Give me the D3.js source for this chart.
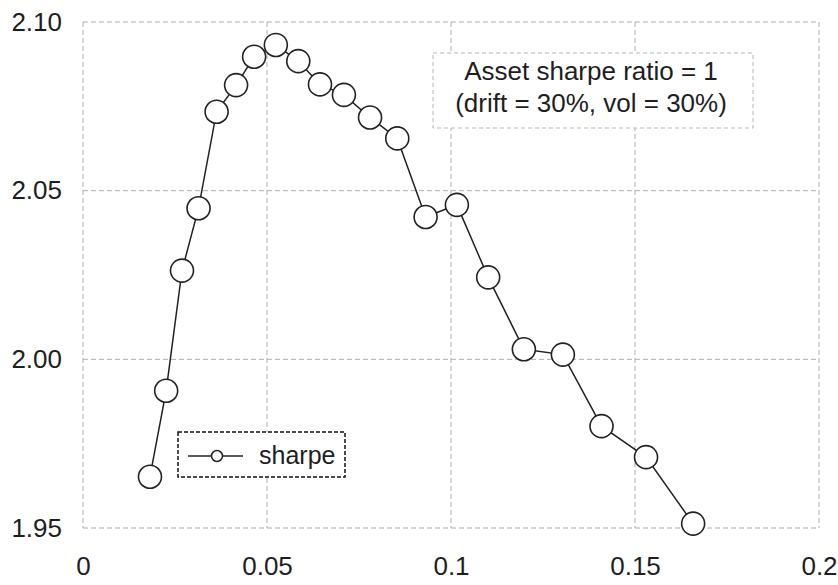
<!DOCTYPE html>
<html>
<head>
<meta charset="utf-8">
<script src="https://cdn.jsdelivr.net/npm/d3@7"></script>
<style>
    body { margin: 0; background: #fff; }
    svg { display: block; font-family: "Liberation Sans", Arial, sans-serif; }
</style>
</head>
<body>
<svg id="chart" width="838" height="585"></svg>
<script>
// data
let xValues = [0.0182, 0.0226, 0.0269, 0.0314, 0.0363, 0.0416, 0.0465, 0.0524, 0.0585, 0.0644, 0.0709,
               0.0780, 0.0854, 0.0931, 0.1016, 0.1101, 0.1198, 0.1304, 0.1409, 0.1530, 0.1658];
let sharpeValues = [1.9652, 1.9907, 2.0263, 2.0448, 2.0734, 2.0813, 2.0897, 2.0932, 2.0884, 2.0815, 2.0784,
                    2.0717, 2.0655, 2.0422, 2.0458, 2.0243, 2.0030, 2.0014, 1.9802, 1.9710, 1.9513];
let xTicks = [0, 0.05, 0.1, 0.15, 0.2];
let xTickLabels = ['0', '0.05', '0.1', '0.15', '0.2'];
let yTicks = [1.95, 2.00, 2.05, 2.10];
let yTickLabels = ['1.95', '2.00', '2.05', '2.10'];
let seriesName = 'sharpe';
let noteLines = ['Asset sharpe ratio = 1', '(drift = 30%, vol = 30%)'];

function chart(element) {
    let margin = { top: 22, right: 19, bottom: 57, left: 83 };
    let width = 838, height = 585;

    let x = d3.scaleLinear().domain([0, 0.2]).range([margin.left, width - margin.right]);
    let y = d3.scaleLinear().domain([1.95, 2.10]).range([height - margin.bottom, margin.top]);

    let svg = d3.select(element);
    let data = xValues.map((v, i) => ({ x: v, y: sharpeValues[i] }));

    //grid lines (inner ones) + dashed plot frame
    let grid = svg.append('g')
        .attr('stroke', '#adadad')
        .attr('stroke-width', 1)
        .attr('stroke-dasharray', '5,3');

    grid.selectAll('line.vx')
        .data(xTicks)
        .join('line')
        .attr('class', 'vx')
        .attr('x1', d => x(d)).attr('x2', d => x(d))
        .attr('y1', y(2.10)).attr('y2', y(1.95));

    grid.selectAll('line.hy')
        .data(yTicks)
        .join('line')
        .attr('class', 'hy')
        .attr('x1', x(0)).attr('x2', x(0.2))
        .attr('y1', d => y(d)).attr('y2', d => y(d));

    //axes, text only
    let xAxis = d3.axisBottom(x)
        .tickValues(xTicks)
        .tickFormat((d, i) => xTickLabels[i])
        .tickSize(0)
        .tickPadding(29);

    let yAxis = d3.axisLeft(y)
        .tickValues(yTicks)
        .tickFormat((d, i) => yTickLabels[i])
        .tickSize(0)
        .tickPadding(21);

    svg.append('g')
        .attr('transform', `translate(0,${y(1.95)})`)
        .call(xAxis)
        .call(g => g.select('.domain').remove());

    svg.append('g')
        .attr('transform', `translate(${x(0)},0)`)
        .call(yAxis)
        .call(g => g.select('.domain').remove());

    svg.selectAll('.tick text')
        .attr('font-size', 26)
        .attr('font-family', '"Liberation Sans", Arial, sans-serif')
        .attr('fill', '#1e1e1e');

    //annotation box
    let note = svg.append('g');
    note.append('rect')
        .attr('x', 433).attr('y', 53)
        .attr('width', 320).attr('height', 75)
        .attr('fill', '#fff')
        .attr('stroke', '#b5b5b5')
        .attr('stroke-dasharray', '4,3');
    note.selectAll('text')
        .data(noteLines)
        .join('text')
        .attr('x', 591)
        .attr('y', (d, i) => 80 + i * 32)
        .attr('text-anchor', 'middle')
        .attr('font-size', 26)
        .attr('fill', '#1e1e1e')
        .text(d => d);

    //series line
    let line = d3.line().x(d => x(d.x)).y(d => y(d.y));
    svg.append('path')
        .datum(data)
        .attr('fill', 'none')
        .attr('stroke', '#222')
        .attr('stroke-width', 1.5)
        .attr('d', line);

    svg.selectAll('circle.pt')
        .data(data)
        .join('circle')
        .attr('class', 'pt')
        .attr('cx', d => x(d.x))
        .attr('cy', d => y(d.y))
        .attr('r', 11.5)
        .attr('fill', '#fff')
        .attr('stroke', '#222')
        .attr('stroke-width', 1.6);

    //legend
    let legend = svg.append('g');
    legend.append('rect')
        .attr('x', 178).attr('y', 432)
        .attr('width', 167).attr('height', 45)
        .attr('fill', '#fff')
        .attr('stroke', '#111')
        .attr('stroke-width', 1.5)
        .attr('stroke-dasharray', '4,2');
    legend.append('line')
        .attr('x1', 188).attr('x2', 243)
        .attr('y1', 456).attr('y2', 456)
        .attr('stroke', '#222')
        .attr('stroke-width', 1.5);
    legend.append('circle')
        .attr('cx', 217).attr('cy', 456).attr('r', 5.5)
        .attr('fill', '#fff')
        .attr('stroke', '#222')
        .attr('stroke-width', 1.5);
    legend.append('text')
        .attr('x', 259).attr('y', 464)
        .attr('font-size', 25)
        .attr('fill', '#1e1e1e')
        .text(seriesName);
}

chart(document.getElementById('chart'));
</script>
</body>
</html>
